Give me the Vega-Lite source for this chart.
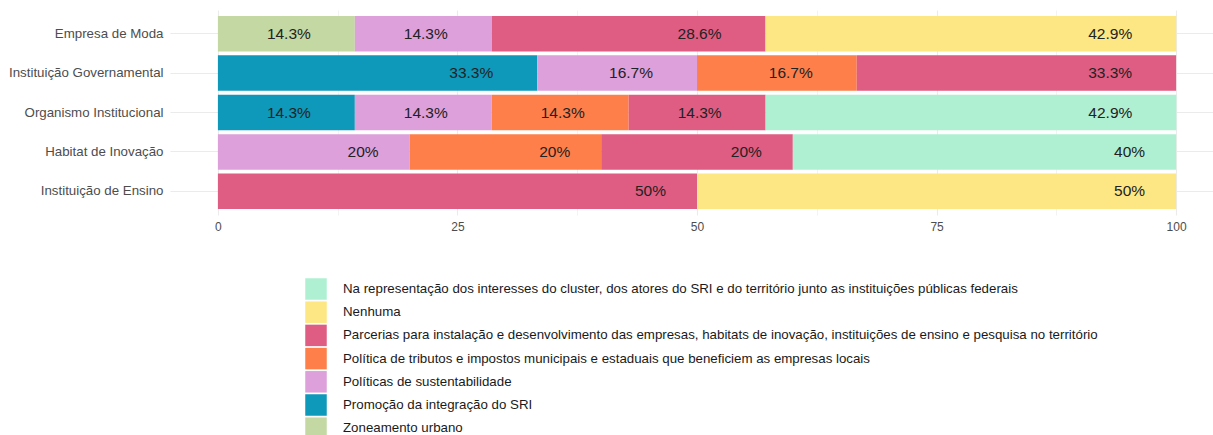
{
  "$schema": "https://vega.github.io/schema/vega-lite/v6.json",
  "autosize": {"type": "none"},
  "padding": {"left": 170, "top": 10, "right": 0, "bottom": 220},
  "width": 1043,
  "height": 205,
  "background": "white",
  "config": {"view": {"stroke": null}, "font": "Liberation Sans"},
  "data": {"values": [
    {"org": "Empresa de Moda", "categoria": "Zoneamento urbano", "pct": 14.29, "label": "14.3%"},
    {"org": "Empresa de Moda", "categoria": "Políticas de sustentabilidade", "pct": 14.29, "label": "14.3%"},
    {"org": "Empresa de Moda", "categoria": "Parcerias para instalação e desenvolvimento das empresas, habitats de inovação, instituições de ensino e pesquisa no território", "pct": 28.57, "label": "28.6%"},
    {"org": "Empresa de Moda", "categoria": "Nenhuma", "pct": 42.86, "label": "42.9%"},
    {"org": "Instituição Governamental", "categoria": "Promoção da integração do SRI", "pct": 33.33, "label": "33.3%"},
    {"org": "Instituição Governamental", "categoria": "Políticas de sustentabilidade", "pct": 16.67, "label": "16.7%"},
    {"org": "Instituição Governamental", "categoria": "Política de tributos e impostos municipais e estaduais que beneficiem as empresas locais", "pct": 16.67, "label": "16.7%"},
    {"org": "Instituição Governamental", "categoria": "Parcerias para instalação e desenvolvimento das empresas, habitats de inovação, instituições de ensino e pesquisa no território", "pct": 33.33, "label": "33.3%"},
    {"org": "Organismo Institucional", "categoria": "Promoção da integração do SRI", "pct": 14.29, "label": "14.3%"},
    {"org": "Organismo Institucional", "categoria": "Políticas de sustentabilidade", "pct": 14.29, "label": "14.3%"},
    {"org": "Organismo Institucional", "categoria": "Política de tributos e impostos municipais e estaduais que beneficiem as empresas locais", "pct": 14.29, "label": "14.3%"},
    {"org": "Organismo Institucional", "categoria": "Parcerias para instalação e desenvolvimento das empresas, habitats de inovação, instituições de ensino e pesquisa no território", "pct": 14.29, "label": "14.3%"},
    {"org": "Organismo Institucional", "categoria": "Na representação dos interesses do cluster, dos atores do SRI e do território junto as instituições públicas federais", "pct": 42.86, "label": "42.9%"},
    {"org": "Habitat de Inovação", "categoria": "Políticas de sustentabilidade", "pct": 20, "label": "20%"},
    {"org": "Habitat de Inovação", "categoria": "Política de tributos e impostos municipais e estaduais que beneficiem as empresas locais", "pct": 20, "label": "20%"},
    {"org": "Habitat de Inovação", "categoria": "Parcerias para instalação e desenvolvimento das empresas, habitats de inovação, instituições de ensino e pesquisa no território", "pct": 20, "label": "20%"},
    {"org": "Habitat de Inovação", "categoria": "Na representação dos interesses do cluster, dos atores do SRI e do território junto as instituições públicas federais", "pct": 40, "label": "40%"},
    {"org": "Instituição de Ensino", "categoria": "Parcerias para instalação e desenvolvimento das empresas, habitats de inovação, instituições de ensino e pesquisa no território", "pct": 50, "label": "50%"},
    {"org": "Instituição de Ensino", "categoria": "Nenhuma", "pct": 50, "label": "50%"}
  ]},
  "transform": [
    {"stack": "pct", "groupby": ["org"], "sort": [{"field": "categoria", "order": "descending"}], "as": ["x0", "x1"]}
  ],
  "encoding": {
    "y": {
      "field": "org", "type": "nominal",
      "sort": ["Empresa de Moda", "Instituição Governamental", "Organismo Institucional", "Habitat de Inovação", "Instituição de Ensino"],
      "scale": {"paddingInner": 0.1, "paddingOuter": 0.15},
      "axis": {"title": null, "domain": false, "ticks": false, "labelFontSize": 13.3, "labelColor": "#4d4d4d", "labelPadding": 7, "grid": true, "gridColor": "#ebebeb", "gridWidth": 1, "bandPosition": 0.5}
    }
  },
  "layer": [
    {
      "mark": {"type": "bar"},
      "encoding": {
        "x": {
          "field": "x0", "type": "quantitative",
          "scale": {"domain": [-5, 103.85], "nice": false, "zero": false},
          "axis": {
            "title": null, "domain": false, "ticks": false,
            "values": [0, 12.5, 25, 37.5, 50, 62.5, 75, 87.5, 100],
            "labelExpr": "datum.value % 25 === 0 ? datum.label : ''",
            "labelOverlap": false, "labelFlush": false,
            "labelFontSize": 12, "labelColor": "#4d4d4d", "labelPadding": 6,
            "grid": true, "gridColor": "#ebebeb",
            "gridWidth": {"condition": {"test": "datum.value % 25 === 0", "value": 1.1}, "value": 0.6}
          }
        },
        "x2": {"field": "x1"},
        "color": {
          "field": "categoria", "type": "nominal",
          "scale": {
            "domain": [
              "Na representação dos interesses do cluster, dos atores do SRI e do território junto as instituições públicas federais",
              "Nenhuma",
              "Parcerias para instalação e desenvolvimento das empresas, habitats de inovação, instituições de ensino e pesquisa no território",
              "Política de tributos e impostos municipais e estaduais que beneficiem as empresas locais",
              "Políticas de sustentabilidade",
              "Promoção da integração do SRI",
              "Zoneamento urbano"
            ],
            "range": ["#aff0d2", "#fce784", "#df5d82", "#ff7f4b", "#dda0db", "#0e98b9", "#c3d8a3"]
          },
          "legend": {
            "title": null, "orient": "none", "legendX": 135, "legendY": 268, "padding": 0,
            "symbolType": "square", "symbolSize": 462, "symbolStrokeWidth": 0, "symbolOpacity": 1,
            "labelFontSize": 13.3, "labelColor": "#1a1a1a", "labelLimit": 2000, "labelOffset": 16,
            "rowPadding": 1.2
          }
        }
      }
    },
    {
      "transform": [{"filter": "length(datum.label) > 3"}],
      "mark": {"type": "text", "align": "right", "baseline": "middle", "dx": -44, "fontSize": 15.5, "color": "#222222"},
      "encoding": {
        "x": {"field": "x1", "type": "quantitative"},
        "text": {"field": "label"}
      }
    },
    {
      "transform": [{"filter": "length(datum.label) <= 3"}],
      "mark": {"type": "text", "align": "right", "baseline": "middle", "dx": -31, "fontSize": 15.5, "color": "#222222"},
      "encoding": {
        "x": {"field": "x1", "type": "quantitative"},
        "text": {"field": "label"}
      }
    }
  ]
}
